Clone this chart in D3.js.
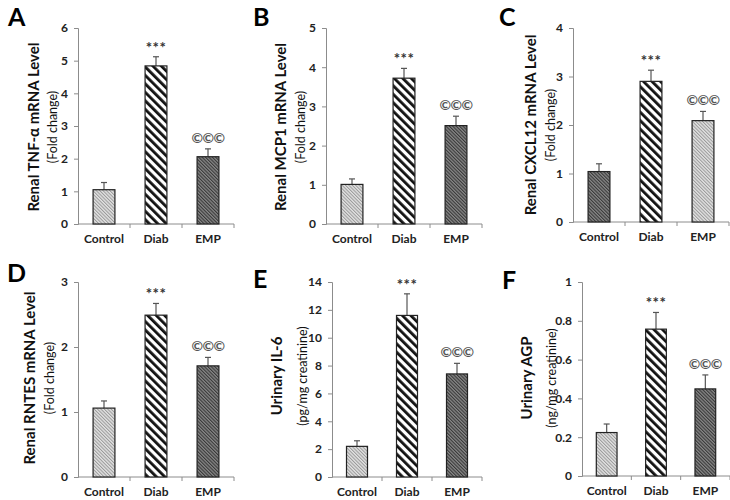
<!DOCTYPE html>
<html><head><meta charset="utf-8">
<script src="https://cdn.jsdelivr.net/npm/d3@7/dist/d3.min.js"></script>
<style>
body{margin:0;background:#fff;}
svg{display:block;}
text{font-family:Lato,"Open Sans",sans-serif;}
</style></head>
<body><svg id="c" width="730" height="500"></svg>
<script>
const categories = ["Control", "Diab", "EMP"];
const marks = ["", "***", "©©©"];

const letters = ["A", "B", "C", "D", "E", "F"];
const titles = ["Renal TNF-α mRNA Level", "Renal MCP1 mRNA Level", "Renal CXCL12 mRNA Level",
                "Renal RNTES mRNA Level", "Urinary IL-6", "Urinary AGP"];
const subtitles = ["(Fold change)", "(Fold change)", "(Fold change)",
                   "(Fold  change)", "(pg/mg creatinine)", "(ng/mg creatinine)"];

const meansA = [1.05, 4.84, 2.06], errA = [0.22, 0.28, 0.24];
const meansB = [1.01, 3.72, 2.51], errB = [0.14, 0.25, 0.24];
const meansC = [1.04, 2.90, 2.09], errC = [0.16, 0.23, 0.19];
const meansD = [1.06, 2.49, 1.71], errD = [0.11, 0.18, 0.13];
const meansE = [2.2, 11.6, 7.4],   errE = [0.4, 1.55, 0.76];
const meansF = [0.224, 0.757, 0.449], errF = [0.044, 0.086, 0.072];

const yMax = [6, 5, 4, 3, 14, 1];
const ticksA = [0, 1, 2, 3, 4, 5, 6];
const ticksB = [0, 1, 2, 3, 4, 5];
const ticksC = [0, 1, 2, 3, 4];
const ticksD = [0, 1, 2, 3];
const ticksE = [0, 2, 4, 6, 8, 10, 12, 14];
const ticksF = [0, 0.2, 0.4, 0.6, 0.8, 1];

const fillsStd = ["light", "diag", "dark"];
const fillsC = ["dark", "diag", "light"];

const means = [meansA, meansB, meansC, meansD, meansE, meansF];
const errs = [errA, errB, errC, errD, errE, errF];
const ticks = [ticksA, ticksB, ticksC, ticksD, ticksE, ticksF];
const fills = [fillsStd, fillsStd, fillsC, fillsStd, fillsStd, fillsStd];

// layout (pixel geometry of each panel)
const layout = [
  {x0: 78, x1: 234, yTop: 28, yBot: 224, lx: 8, ly: 26, t1: 33, t2: 52, tc: 127},
  {x0: 326, x1: 482, yTop: 28, yBot: 224, lx: 253, ly: 26, t1: 280, t2: 300, tc: 127},
  {x0: 573, x1: 729, yTop: 28, yBot: 222, lx: 499, ly: 26, t1: 530, t2: 550, tc: 125},
  {x0: 78, x1: 234, yTop: 282, yBot: 477, lx: 7, ly: 282, t1: 29, t2: 49, tc: 378},
  {x0: 332, x1: 482, yTop: 282, yBot: 477, lx: 253, ly: 288, t1: 276, t2: 302, tc: 376},
  {x0: 582, x1: 730, yTop: 282, yBot: 476, lx: 502, ly: 289, t1: 526, t2: 551, tc: 378}
];

const svg = d3.select("#c");
const defs = svg.append("defs");

// Patterns
function hatch(id, bg, fg, size, sw) {
  const p = defs.append("pattern").attr("id", id).attr("patternUnits", "userSpaceOnUse")
    .attr("width", size).attr("height", size).attr("patternTransform", "rotate(-45)");
  p.append("rect").attr("width", size).attr("height", size).attr("fill", bg);
  p.append("rect").attr("x", 0).attr("y", 0).attr("width", sw).attr("height", size).attr("fill", fg);
}
hatch("light", "#e2e2e2", "#999999", 2.4, 1.0);
hatch("dark", "#888888", "#383838", 2.4, 1.1);
hatch("diag", "#ffffff", "#111111", 6.0, 2.8);

layout.forEach((L, i) => {
  const g = svg.append("g");
  const x = d3.scaleBand().domain(categories).range([L.x0, L.x1]).paddingInner(0.58).paddingOuter(0.29);
  const y = d3.scaleLinear().domain([0, yMax[i]]).range([L.yBot, L.yTop]);

  // y axis
  const ya = d3.axisLeft(y).tickValues(ticks[i]).tickSize(4).tickPadding(6)
    .tickFormat(d => String(+d.toFixed(2)));
  const yg = g.append("g").attr("transform", `translate(${L.x0},0)`).call(ya);
  yg.select(".domain").attr("stroke", "#8c8c8c");
  yg.selectAll(".tick line").attr("stroke", "#8c8c8c");
  yg.selectAll(".tick text").attr("font-size", 12).attr("font-weight", "bold").attr("fill", "#222")
    .attr("font-family", "Lato, sans-serif");

  // x axis
  g.append("line").attr("x1", L.x0).attr("x2", L.x1).attr("y1", L.yBot).attr("y2", L.yBot)
    .attr("stroke", "#8c8c8c");
  const bounds = [1, 2, 3].map(k => L.x0 + (L.x1 - L.x0) * k / 3);
  g.selectAll(".xt").data(bounds).enter().append("line")
    .attr("x1", d => d).attr("x2", d => d).attr("y1", L.yBot).attr("y2", L.yBot + 4)
    .attr("stroke", "#8c8c8c");
  g.selectAll(".xl").data(categories).enter().append("text")
    .attr("x", d => x(d) + x.bandwidth() / 2).attr("y", L.yBot + 19)
    .attr("text-anchor", "middle").attr("font-size", 12).attr("font-weight", "bold").attr("fill", "#222")
    .text(d => d);

  const data = categories.map((c, k) => ({c, m: means[i][k], e: errs[i][k], f: fills[i][k], a: marks[k]}));

  // error bars
  data.forEach(d => {
    const cx = x(d.c) + x.bandwidth() / 2;
    g.append("line").attr("x1", cx).attr("x2", cx).attr("y1", y(d.m)).attr("y2", y(d.m + d.e))
      .attr("stroke", "#555").attr("stroke-width", 1.2);
    g.append("line").attr("x1", cx - 3).attr("x2", cx + 3).attr("y1", y(d.m + d.e)).attr("y2", y(d.m + d.e))
      .attr("stroke", "#555").attr("stroke-width", 1.2);
  });

  // bars
  g.selectAll(".bar").data(data).enter().append("rect")
    .attr("x", d => x(d.c)).attr("width", x.bandwidth())
    .attr("y", d => y(d.m)).attr("height", d => y(0) - y(d.m))
    .attr("fill", d => `url(#${d.f})`).attr("stroke", "#222").attr("stroke-width", 1.2);

  // annotations
  data.forEach(d => {
    if (!d.a) return;
    const cx = x(d.c) + x.bandwidth() / 2;
    const isStar = d.a === "***";
    g.append("text").attr("x", cx).attr("y", y(d.m + d.e) - (isStar ? 4 : 6))
      .attr("text-anchor", "middle")
      .attr("font-size", isStar ? 15 : 14).attr("font-weight", "bold")
      .attr("fill", isStar ? "#333" : "#555")
      .attr("font-family", "Liberation Sans, Arial, sans-serif")
      .attr("letter-spacing", isStar ? 0.5 : -0.5)
      .text(d.a);
  });

  // panel letter
  g.append("text").attr("x", L.lx).attr("y", L.ly).attr("font-size", 25).attr("font-weight", "bold")
    .attr("font-family", "Liberation Sans, Arial, sans-serif").attr("fill", "#000").text(letters[i]);

  // y titles
  g.append("text").attr("transform", `translate(${L.t1},${L.tc}) rotate(-90)`)
    .attr("text-anchor", "middle").attr("dominant-baseline", "central")
    .attr("font-size", 15).attr("font-weight", "bold").attr("fill", "#111").text(titles[i]);
  g.append("text").attr("transform", `translate(${L.t2},${L.tc}) rotate(-90)`)
    .attr("text-anchor", "middle").attr("dominant-baseline", "central")
    .attr("font-size", 12.5).attr("fill", "#111").text(subtitles[i]);
});
</script></body></html>
